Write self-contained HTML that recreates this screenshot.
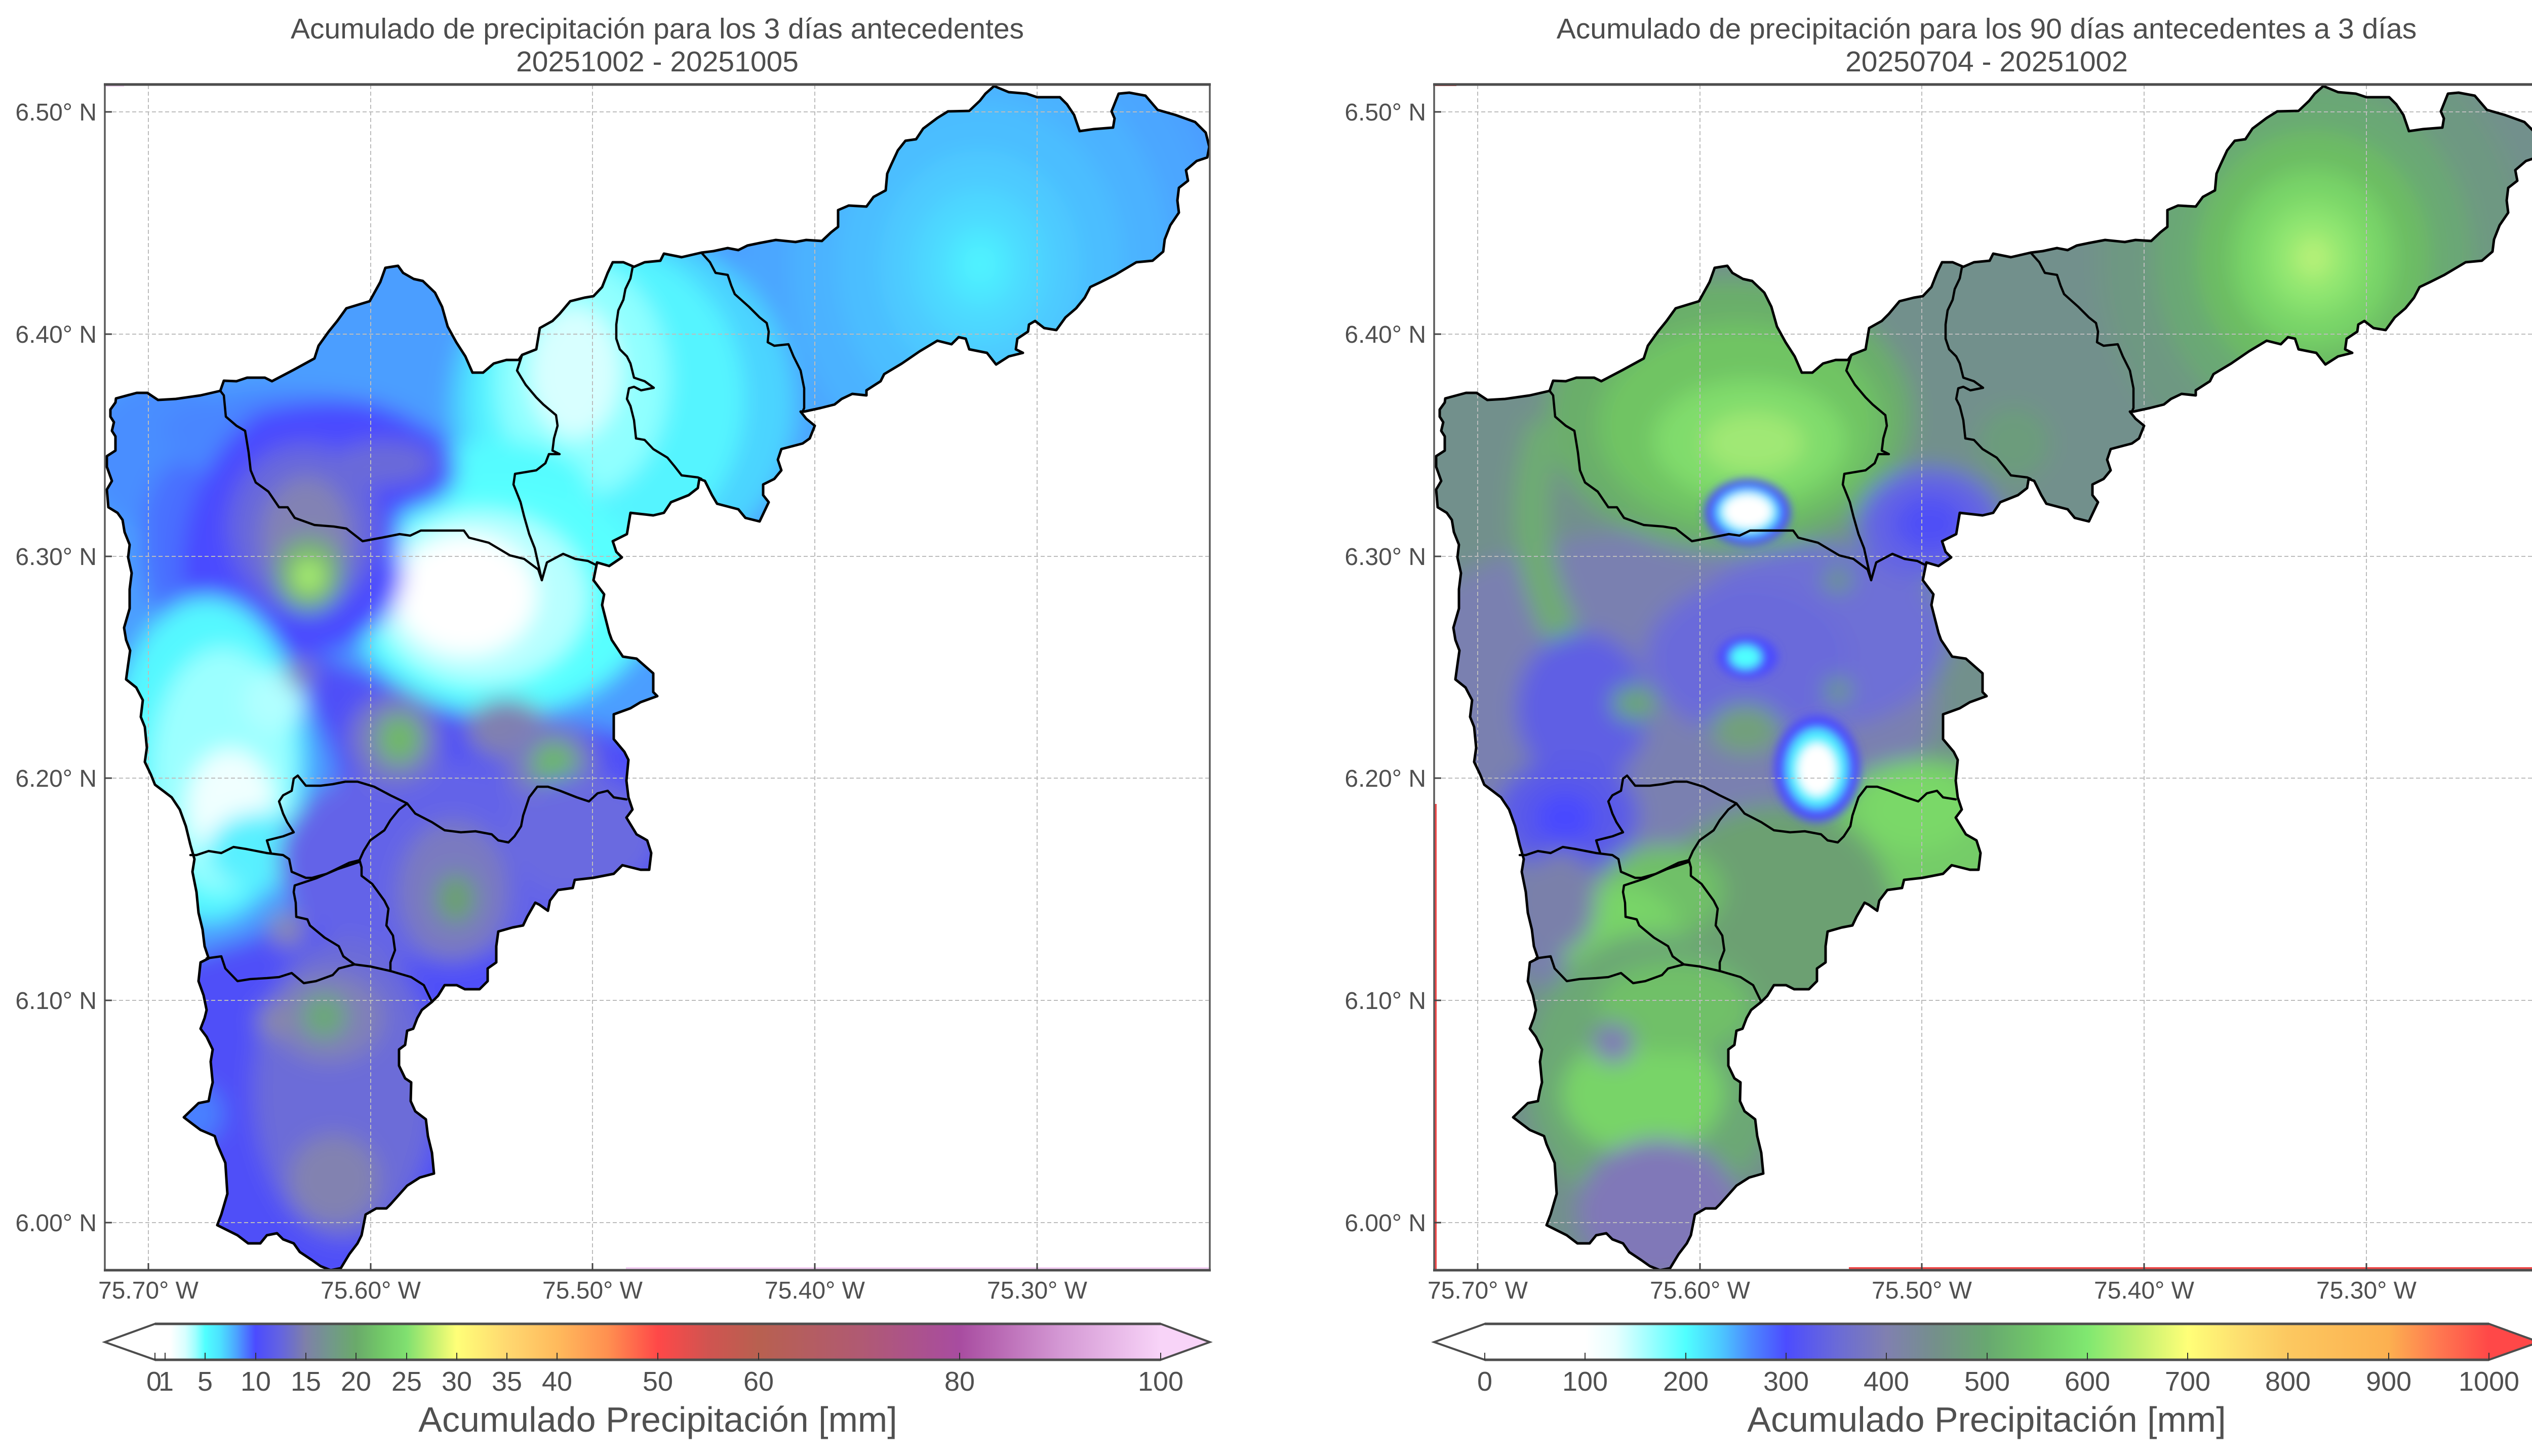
<!DOCTYPE html>
<html><head><meta charset="utf-8"><style>
html,body{margin:0;padding:0;background:#fff;}
body{width:5044px;height:2876px;overflow:hidden;}
svg{display:block;font-family:"Liberation Sans",sans-serif;}
</style></head><body>
<svg width="5044" height="2876" viewBox="0 0 5044 2876" xmlns="http://www.w3.org/2000/svg">
<defs>
<clipPath id="cp"><polygon points="229,787 270,776 291,776 312,790 347,788 396,781 435,772 442,752 467,753 488,746 523,746 537,753 579,731 621,708 629,683 649,655 666,634 684,609 730,595 751,557 761,529 786,525 796,539 817,551 835,555 859,578 873,606 884,645 901,676 919,704 933,736 954,736 975,718 1000,711 1024,711 1031,701 1059,690 1066,648 1091,634 1105,620 1126,595 1154,588 1172,585 1189,567 1200,539 1210,518 1231,518 1252,527 1273,518 1304,515 1311,501 1346,508 1385,499 1409,496 1437,490 1458,494 1476,485 1500,480 1532,474 1571,478 1592,474 1623,476 1641,459 1655,448 1655,415 1676,406 1711,408 1725,389 1749,376 1752,343 1760,325 1773,297 1788,278 1809,275 1823,254 1851,233 1872,220 1914,219 1935,199 1946,185 1963,170 1992,182 2027,185 2048,192 2093,192 2107,206 2121,227 2132,259 2160,255 2198,252 2201,234 2195,220 2209,185 2230,183 2262,189 2286,217 2321,227 2360,241 2381,262 2388,290 2384,311 2363,318 2342,336 2346,357 2328,371 2325,396 2328,420 2311,445 2300,473 2297,497 2276,515 2244,518 2202,543 2174,557 2153,567 2142,588 2125,609 2104,627 2086,652 2062,648 2044,634 2032,641 2030,655 2009,669 2006,690 2020,697 1992,704 1967,720 1949,697 1914,690 1907,669 1893,666 1879,680 1851,673 1816,694 1781,718 1746,739 1739,753 1711,771 1711,781 1683,778 1662,788 1648,799 1620,806 1588,813 1581,813 1592,827 1609,841 1599,866 1585,876 1543,887 1536,908 1543,929 1529,946 1507,957 1507,978 1518,992 1500,1030 1472,1023 1458,1006 1416,995 1406,978 1392,950 1381,946 1378,964 1360,978 1325,992 1311,1013 1290,1018 1245,1013 1238,1055 1210,1069 1217,1090 1228,1101 1203,1118 1179,1111 1172,1146 1193,1174 1189,1195 1203,1250 1208,1264 1230,1297 1257,1301 1290,1330 1290,1367 1298,1375 1265,1387 1245,1399 1212,1411 1212,1460 1233,1485 1241,1501 1237,1542 1241,1575 1249,1599 1237,1615 1257,1648 1278,1660 1286,1685 1282,1718 1265,1718 1229,1709 1212,1726 1171,1734 1135,1738 1131,1754 1102,1758 1086,1779 1082,1799 1065,1787 1057,1783 1041,1811 1033,1828 1012,1832 984,1840 980,1869 980,1901 963,1913 963,1938 947,1954 918,1954 902,1946 878,1946 865,1967 853,1979 833,1995 824,2011 816,2032 804,2036 800,2064 788,2073 788,2105 800,2130 812,2138 811,2175 820,2195 841,2211 845,2244 853,2277 857,2318 829,2326 804,2342 771,2379 763,2387 743,2387 722,2399 714,2440 706,2456 690,2477 673,2505 653,2509 633,2501 616,2489 592,2473 580,2456 559,2448 547,2436 527,2440 514,2456 490,2456 469,2440 453,2432 429,2420 437,2399 449,2358 445,2297 429,2260 424,2244 396,2232 380,2220 363,2207 392,2179 412,2175 416,2154 420,2138 416,2097 420,2073 408,2048 396,2032 404,2011 408,1995 402,1966 392,1938 396,1901 412,1893 404,1869 400,1836 392,1803 388,1762 380,1722 384,1697 376,1669 367,1632 355,1599 339,1575 322,1562 306,1550 298,1530 286,1505 290,1477 286,1436 278,1416 282,1383 269,1358 249,1342 253,1313 257,1285 249,1264 245,1240 256,1202 256,1164 260,1132 253,1101 256,1076 246,1051 242,1027 232,1013 214,1002 211,967 221,950 211,922 211,901 228,890 228,862 221,851 225,834 218,823 218,809 228,795"/></clipPath>
<g id="outline"><polygon fill="none" stroke="#000" stroke-width="5" stroke-linejoin="round" points="229,787 270,776 291,776 312,790 347,788 396,781 435,772 442,752 467,753 488,746 523,746 537,753 579,731 621,708 629,683 649,655 666,634 684,609 730,595 751,557 761,529 786,525 796,539 817,551 835,555 859,578 873,606 884,645 901,676 919,704 933,736 954,736 975,718 1000,711 1024,711 1031,701 1059,690 1066,648 1091,634 1105,620 1126,595 1154,588 1172,585 1189,567 1200,539 1210,518 1231,518 1252,527 1273,518 1304,515 1311,501 1346,508 1385,499 1409,496 1437,490 1458,494 1476,485 1500,480 1532,474 1571,478 1592,474 1623,476 1641,459 1655,448 1655,415 1676,406 1711,408 1725,389 1749,376 1752,343 1760,325 1773,297 1788,278 1809,275 1823,254 1851,233 1872,220 1914,219 1935,199 1946,185 1963,170 1992,182 2027,185 2048,192 2093,192 2107,206 2121,227 2132,259 2160,255 2198,252 2201,234 2195,220 2209,185 2230,183 2262,189 2286,217 2321,227 2360,241 2381,262 2388,290 2384,311 2363,318 2342,336 2346,357 2328,371 2325,396 2328,420 2311,445 2300,473 2297,497 2276,515 2244,518 2202,543 2174,557 2153,567 2142,588 2125,609 2104,627 2086,652 2062,648 2044,634 2032,641 2030,655 2009,669 2006,690 2020,697 1992,704 1967,720 1949,697 1914,690 1907,669 1893,666 1879,680 1851,673 1816,694 1781,718 1746,739 1739,753 1711,771 1711,781 1683,778 1662,788 1648,799 1620,806 1588,813 1581,813 1592,827 1609,841 1599,866 1585,876 1543,887 1536,908 1543,929 1529,946 1507,957 1507,978 1518,992 1500,1030 1472,1023 1458,1006 1416,995 1406,978 1392,950 1381,946 1378,964 1360,978 1325,992 1311,1013 1290,1018 1245,1013 1238,1055 1210,1069 1217,1090 1228,1101 1203,1118 1179,1111 1172,1146 1193,1174 1189,1195 1203,1250 1208,1264 1230,1297 1257,1301 1290,1330 1290,1367 1298,1375 1265,1387 1245,1399 1212,1411 1212,1460 1233,1485 1241,1501 1237,1542 1241,1575 1249,1599 1237,1615 1257,1648 1278,1660 1286,1685 1282,1718 1265,1718 1229,1709 1212,1726 1171,1734 1135,1738 1131,1754 1102,1758 1086,1779 1082,1799 1065,1787 1057,1783 1041,1811 1033,1828 1012,1832 984,1840 980,1869 980,1901 963,1913 963,1938 947,1954 918,1954 902,1946 878,1946 865,1967 853,1979 833,1995 824,2011 816,2032 804,2036 800,2064 788,2073 788,2105 800,2130 812,2138 811,2175 820,2195 841,2211 845,2244 853,2277 857,2318 829,2326 804,2342 771,2379 763,2387 743,2387 722,2399 714,2440 706,2456 690,2477 673,2505 653,2509 633,2501 616,2489 592,2473 580,2456 559,2448 547,2436 527,2440 514,2456 490,2456 469,2440 453,2432 429,2420 437,2399 449,2358 445,2297 429,2260 424,2244 396,2232 380,2220 363,2207 392,2179 412,2175 416,2154 420,2138 416,2097 420,2073 408,2048 396,2032 404,2011 408,1995 402,1966 392,1938 396,1901 412,1893 404,1869 400,1836 392,1803 388,1762 380,1722 384,1697 376,1669 367,1632 355,1599 339,1575 322,1562 306,1550 298,1530 286,1505 290,1477 286,1436 278,1416 282,1383 269,1358 249,1342 253,1313 257,1285 249,1264 245,1240 256,1202 256,1164 260,1132 253,1101 256,1076 246,1051 242,1027 232,1013 214,1002 211,967 221,950 211,922 211,901 228,890 228,862 221,851 225,834 218,823 218,809 228,795"/>
<g fill="none" stroke="#000" stroke-width="4.5" stroke-linejoin="round" stroke-linecap="round">
<polyline points="435,772 442,781 446,823 467,841 484,851 491,894 495,929 505,953 530,971 551,1002 568,1002 582,1023 621,1037 659,1040 684,1044 716,1069 754,1062 789,1055 810,1058 831,1048 866,1048 916,1048 926,1062 965,1072 1007,1097 1035,1104 1063,1125 1070,1146"/>
<polyline points="1070,1146 1056,1083 1045,1055 1035,1020 1028,992 1014,957 1017,936 1059,929 1077,915 1084,897 1105,897 1091,890 1094,866 1101,841 1098,820 1073,799 1059,785 1038,760 1021,732 1031,701"/>
<polyline points="1070,1146 1080,1111 1112,1094 1136,1104 1161,1108 1175,1115"/>
<polyline points="1249,529 1245,550 1235,571 1231,592 1221,613 1217,641 1217,669 1224,690 1238,704 1245,718 1252,746 1273,753 1291,766 1266,771 1252,764 1242,767 1238,788 1245,802 1252,830 1256,866 1273,869 1290,887 1318,904 1332,921 1346,939 1378,943 1385,946"/>
<polyline points="1385,499 1402,518 1413,539 1437,543 1444,564 1451,581 1479,606 1500,627 1514,638 1518,655 1516,676 1529,683 1557,680 1567,704 1581,732 1588,767 1588,806 1585,813"/>
<polyline points="376,1689 388,1689 412,1681 437,1685 461,1673 486,1677 527,1685 559,1689 571,1697 576,1722 604,1734 616,1734 645,1726 690,1704 710,1699 718,1681 731,1660 759,1640 771,1620 788,1599 804,1587 820,1607 853,1624 878,1640 910,1644 939,1642 971,1648 984,1660 1004,1664 1016,1652 1029,1632 1033,1611 1045,1575 1061,1554 1082,1554 1106,1562 1139,1575 1163,1583 1180,1567 1200,1562 1212,1575 1237,1579"/>
<polyline points="804,1587 771,1571 739,1554 706,1544 682,1544 657,1549 633,1552 604,1552 596,1542 588,1532 580,1538 576,1562 559,1571 551,1583 559,1607 567,1624 580,1644 559,1652 527,1660 531,1673 535,1685"/>
<polyline points="710,1699 714,1713 714,1730 735,1746 759,1779 767,1795 763,1828 776,1848 780,1877 771,1901 771,1918"/>
<polyline points="708,1703 666,1717 624,1735 582,1749 580,1762 584,1783 585,1811 607,1816 612,1828 641,1852 669,1869 678,1889 700,1905"/>
<polyline points="408,1893 437,1889 445,1913 469,1938 494,1934 527,1932 551,1930 576,1922 600,1942 624,1938 657,1926 669,1913 700,1905 731,1909 771,1918 812,1930 837,1946 853,1979"/>
</g>
</g>
<filter id="bl" x="-10%" y="-10%" width="120%" height="120%"><feGaussianBlur stdDeviation="22"/></filter>
<filter id="bs" x="-50%" y="-50%" width="200%" height="200%"><feGaussianBlur stdDeviation="9"/></filter>
<g id="grid" stroke="#bcbcbc" stroke-width="2" stroke-dasharray="8,5" fill="none">
<line x1="293" y1="168" x2="293" y2="2507"/><line x1="732" y1="168" x2="732" y2="2507"/><line x1="1170" y1="168" x2="1170" y2="2507"/><line x1="1609" y1="168" x2="1609" y2="2507"/><line x1="2048" y1="168" x2="2048" y2="2507"/>
<line x1="209" y1="221" x2="2387" y2="221"/><line x1="209" y1="660" x2="2387" y2="660"/><line x1="209" y1="1099" x2="2387" y2="1099"/><line x1="209" y1="1537" x2="2387" y2="1537"/><line x1="209" y1="1976" x2="2387" y2="1976"/><line x1="209" y1="2415" x2="2387" y2="2415"/>
</g>
<g id="axes">
<rect x="207" y="166" width="2182" height="2343" fill="none" stroke="#5a5a5a" stroke-width="3.5"/>
<line x1="205" y1="167" x2="2391" y2="167" stroke="#4d4d4d" stroke-width="5"/>
<line x1="205" y1="2509" x2="2391" y2="2509" stroke="#4d4d4d" stroke-width="5"/>
<g stroke="#444" stroke-width="3">
<line x1="293" y1="2495" x2="293" y2="2509"/><line x1="732" y1="2495" x2="732" y2="2509"/><line x1="1170" y1="2495" x2="1170" y2="2509"/><line x1="1609" y1="2495" x2="1609" y2="2509"/><line x1="2048" y1="2495" x2="2048" y2="2509"/>
<line x1="207" y1="221" x2="221" y2="221"/><line x1="207" y1="660" x2="221" y2="660"/><line x1="207" y1="1099" x2="221" y2="1099"/><line x1="207" y1="1537" x2="221" y2="1537"/><line x1="207" y1="1976" x2="221" y2="1976"/><line x1="207" y1="2415" x2="221" y2="2415"/>
</g>
<g fill="#505050" font-size="48" text-anchor="middle">
<text x="293" y="2565">75.70° W</text><text x="732" y="2565">75.60° W</text><text x="1170" y="2565">75.50° W</text><text x="1609" y="2565">75.40° W</text><text x="2048" y="2565">75.30° W</text>
</g>
<g fill="#505050" font-size="48" text-anchor="end">
<text x="191" y="238">6.50° N</text><text x="191" y="677">6.40° N</text><text x="191" y="1116">6.30° N</text><text x="191" y="1554">6.20° N</text><text x="191" y="1993">6.10° N</text><text x="191" y="2432">6.00° N</text>
</g>
</g>
<linearGradient id="cbL" gradientUnits="userSpaceOnUse" x1="306" y1="0" x2="2292" y2="0">
<stop offset="0" stop-color="#ffffff"/><stop offset="0.015" stop-color="#ffffff"/><stop offset="0.03" stop-color="#d8ffff"/><stop offset="0.04" stop-color="#a0ffff"/><stop offset="0.05" stop-color="#50ffff"/><stop offset="0.065" stop-color="#4ce0ff"/><stop offset="0.08" stop-color="#4ca8ff"/><stop offset="0.1" stop-color="#4b4bff"/><stop offset="0.125" stop-color="#6464e0"/><stop offset="0.15" stop-color="#7e80a8"/><stop offset="0.175" stop-color="#72988a"/><stop offset="0.2" stop-color="#6aaa6a"/><stop offset="0.225" stop-color="#72c868"/><stop offset="0.25" stop-color="#80e070"/><stop offset="0.275" stop-color="#c0f070"/><stop offset="0.3" stop-color="#ffff78"/><stop offset="0.35" stop-color="#ffd870"/><stop offset="0.4" stop-color="#ffba5c"/><stop offset="0.45" stop-color="#ff9050"/><stop offset="0.5" stop-color="#ff4848"/><stop offset="0.55" stop-color="#d05450"/><stop offset="0.6" stop-color="#b86050"/><stop offset="0.7" stop-color="#b05a72"/><stop offset="0.8" stop-color="#a84ca0"/><stop offset="0.9" stop-color="#d498d4"/><stop offset="1" stop-color="#f8d4f8"/>
</linearGradient>
<linearGradient id="cbR" gradientUnits="userSpaceOnUse" x1="2932" y1="0" x2="4915" y2="0">
<stop offset="0" stop-color="#ffffff"/><stop offset="0.1" stop-color="#ffffff"/><stop offset="0.13" stop-color="#e8ffff"/><stop offset="0.17" stop-color="#90ffff"/><stop offset="0.2" stop-color="#50ffff"/><stop offset="0.235" stop-color="#4cc8ff"/><stop offset="0.265" stop-color="#4c88ff"/><stop offset="0.3" stop-color="#4c4cff"/><stop offset="0.35" stop-color="#6a6ad8"/><stop offset="0.4" stop-color="#8080b0"/><stop offset="0.45" stop-color="#74908a"/><stop offset="0.5" stop-color="#68a870"/><stop offset="0.55" stop-color="#70c868"/><stop offset="0.6" stop-color="#80e870"/><stop offset="0.65" stop-color="#c0f070"/><stop offset="0.7" stop-color="#ffff78"/><stop offset="0.75" stop-color="#fde070"/><stop offset="0.8" stop-color="#fcc860"/><stop offset="0.9" stop-color="#fcb050"/><stop offset="0.95" stop-color="#ff7850"/><stop offset="1" stop-color="#ff4848"/>
</linearGradient>
</defs>
<rect width="5044" height="2876" fill="#fff"/>

<!-- ============ LEFT PANEL ============ -->
<g fill="#4d4d4d" text-anchor="middle" font-size="57">
<text x="1298" y="76">Acumulado de precipitación para los 3 días antecedentes</text>
<text x="1298" y="141">20251002 - 20251005</text>
</g>
<g clip-path="url(#cp)">
<g filter="url(#bl)">
<rect x="150" y="120" width="2300" height="2450" fill="#4b9eff"/>
<ellipse cx="1935" cy="525" rx="470" ry="540" fill="#4ba6ff"/>
<ellipse cx="1935" cy="525" rx="376" ry="432" fill="#4cb2ff"/>
<ellipse cx="1935" cy="525" rx="282" ry="324" fill="#4cbeff"/>
<ellipse cx="1935" cy="525" rx="197" ry="227" fill="#4dcaff"/>
<ellipse cx="1935" cy="525" rx="132" ry="151" fill="#4dd8ff"/>
<ellipse cx="1935" cy="525" rx="75" ry="86" fill="#4ee6ff"/>
<ellipse cx="1935" cy="522" rx="33" ry="38" fill="#50f4ff"/>
<ellipse cx="320" cy="900" rx="150" ry="150" fill="#4a8eff"/>
<ellipse cx="1230" cy="800" rx="340" ry="340" fill="#4cd4ff"/>
<ellipse cx="1200" cy="790" rx="270" ry="300" fill="#55f4ff"/>
<ellipse cx="1150" cy="750" rx="170" ry="230" fill="#90ffff"/>
<ellipse cx="1135" cy="735" rx="90" ry="130" fill="#d8ffff"/>
<ellipse cx="990" cy="980" rx="180" ry="110" fill="#55fcff"/>
<polygon fill="#5050f8" points="560,1290 650,1300 780,1350 900,1400 1050,1410 1200,1440 1320,1470 1330,1800 1100,1950 900,2150 900,2550 350,2550 340,1900 500,1850 620,1760 690,1640 650,1480 590,1350"/>
<ellipse cx="990" cy="1180" rx="300" ry="230" fill="#58ffff"/>
<ellipse cx="950" cy="1180" rx="210" ry="170" fill="#b8ffff"/>
<ellipse cx="920" cy="1175" rx="140" ry="120" fill="#ffffff"/>
<ellipse cx="560" cy="850" rx="240" ry="80" fill="#4a86ff"/>
<ellipse cx="360" cy="1080" rx="80" ry="170" fill="#4a70ff"/>
<ellipse cx="585" cy="1050" rx="205" ry="230" fill="#4c4cff"/>
<ellipse cx="745" cy="905" rx="150" ry="80" fill="#4c4cff"/>
<path d="M389,1150 L389,1077 Q410,930 520,840 Q620,815 726,823 Q831,850 873,921 Q880,960 817,978 Q750,1000 712,1062 Q740,1100 768,1132 Q760,1200 691,1244 Q620,1280 560,1260" fill="none" stroke="#4a4aff" stroke-width="55" stroke-linecap="round"/>
<ellipse cx="600" cy="1040" rx="150" ry="165" fill="#6868dc"/>
<ellipse cx="760" cy="915" rx="100" ry="45" fill="#6a6ad8"/>
<ellipse cx="605" cy="1060" rx="90" ry="120" fill="#8282b4"/>
<ellipse cx="610" cy="1135" rx="65" ry="75" fill="#74b070"/>
<ellipse cx="610" cy="1138" rx="30" ry="35" fill="#a8f070"/>
<ellipse cx="410" cy="1500" rx="190" ry="320" fill="#55f8ff"/>
<ellipse cx="440" cy="1520" rx="140" ry="240" fill="#9cffff"/>
<ellipse cx="455" cy="1590" rx="85" ry="110" fill="#f0ffff"/>
<ellipse cx="540" cy="1385" rx="60" ry="60" fill="#b0ffff"/>
<ellipse cx="520" cy="1680" rx="110" ry="75" fill="#58f0ff"/>
<ellipse cx="850" cy="1700" rx="300" ry="200" fill="#6464e8"/>
<ellipse cx="895" cy="1760" rx="110" ry="140" fill="#7a7ac0"/>
<ellipse cx="900" cy="1775" rx="40" ry="50" fill="#6aa070"/>
<ellipse cx="680" cy="2150" rx="180" ry="300" fill="#6c6cd8"/>
<ellipse cx="650" cy="2010" rx="110" ry="90" fill="#8080b8"/>
<ellipse cx="640" cy="2008" rx="45" ry="45" fill="#6aa878"/>
<ellipse cx="660" cy="2330" rx="90" ry="90" fill="#8282b0"/>
<ellipse cx="543" cy="2015" rx="35" ry="35" fill="#8888a8"/>
<ellipse cx="567" cy="1836" rx="35" ry="35" fill="#8888b0"/>
<ellipse cx="780" cy="1460" rx="90" ry="90" fill="#7a7ac0"/>
<ellipse cx="788" cy="1460" rx="45" ry="50" fill="#70b868"/>
<ellipse cx="1000" cy="1440" rx="80" ry="60" fill="#8080b0"/>
<ellipse cx="1090" cy="1510" rx="90" ry="80" fill="#7a7ac0"/>
<ellipse cx="1094" cy="1510" rx="45" ry="45" fill="#6cb868"/>
<ellipse cx="1150" cy="1650" rx="150" ry="120" fill="#6a6ae0"/>
<ellipse cx="380" cy="2200" rx="60" ry="60" fill="#4a80ff"/>
<ellipse cx="592" cy="1330" rx="30" ry="30" fill="#8080c0"/>
</g>
</g>
<use href="#grid"/>
<rect x="1236" y="2503" width="1152" height="4" fill="#f4d0f4"/>
<rect x="209" y="168" width="36" height="3" fill="#f4d0f4"/>
<use href="#outline"/>
<use href="#axes"/>
<!-- left colorbar -->
<rect x="306" y="2615" width="1986" height="71" fill="url(#cbL)"/>
<polygon points="207,2651 306,2615 306,2686" fill="#ffffff"/>
<polygon points="2389,2651 2292,2615 2292,2686" fill="#f8d4f8"/>
<polygon points="207,2651 306,2615 2292,2615 2389,2651 2292,2686 306,2686" fill="none" stroke="#4d4d4d" stroke-width="4" stroke-linejoin="miter"/>
<line x1="306" y1="2615" x2="2292" y2="2615" stroke="#4d4d4d" stroke-width="5"/>
<line x1="306" y1="2686" x2="2292" y2="2686" stroke="#4d4d4d" stroke-width="5"/>
<g stroke="#333" stroke-width="2">
<line x1="306" y1="2672" x2="306" y2="2686"/><line x1="326" y1="2672" x2="326" y2="2686"/><line x1="405" y1="2672" x2="405" y2="2686"/><line x1="505" y1="2672" x2="505" y2="2686"/><line x1="604" y1="2672" x2="604" y2="2686"/><line x1="703" y1="2672" x2="703" y2="2686"/><line x1="803" y1="2672" x2="803" y2="2686"/><line x1="902" y1="2672" x2="902" y2="2686"/><line x1="1001" y1="2672" x2="1001" y2="2686"/><line x1="1100" y1="2672" x2="1100" y2="2686"/><line x1="1299" y1="2672" x2="1299" y2="2686"/><line x1="1498" y1="2672" x2="1498" y2="2686"/><line x1="1895" y1="2672" x2="1895" y2="2686"/><line x1="2292" y1="2672" x2="2292" y2="2686"/>
</g>
<g fill="#505050" font-size="54" text-anchor="middle">
<text x="304" y="2747">0</text><text x="328" y="2747">1</text><text x="405" y="2747">5</text><text x="505" y="2747">10</text><text x="604" y="2747">15</text><text x="703" y="2747">20</text><text x="803" y="2747">25</text><text x="902" y="2747">30</text><text x="1001" y="2747">35</text><text x="1100" y="2747">40</text><text x="1299" y="2747">50</text><text x="1498" y="2747">60</text><text x="1895" y="2747">80</text><text x="2292" y="2747">100</text>
</g>
<text x="1299" y="2828" fill="#505050" font-size="70" text-anchor="middle">Acumulado Precipitación [mm]</text>

<!-- ============ RIGHT PANEL ============ -->
<g fill="#4d4d4d" text-anchor="middle" font-size="57">
<text x="3923" y="76">Acumulado de precipitación para los 90 días antecedentes a 3 días</text>
<text x="3923" y="141">20250704 - 20251002</text>
</g>
<g transform="translate(2625,0)">
<g clip-path="url(#cp)">
<g filter="url(#bl)">
<rect x="150" y="120" width="2300" height="2450" fill="#72908c"/>
<ellipse cx="1943" cy="510" rx="420" ry="460" fill="#6e9882"/>
<ellipse cx="1943" cy="510" rx="315" ry="345" fill="#6aa874"/>
<ellipse cx="1943" cy="510" rx="231" ry="253" fill="#6cbc64"/>
<ellipse cx="1943" cy="510" rx="160" ry="175" fill="#78d468"/>
<ellipse cx="1943" cy="510" rx="101" ry="110" fill="#8ce470"/>
<ellipse cx="1943" cy="510" rx="50" ry="55" fill="#a6ee74"/>
<ellipse cx="1943" cy="508" rx="22" ry="24" fill="#c0f27a"/>
<ellipse cx="1352" cy="875" rx="70" ry="70" fill="#6c9c7c"/>
<ellipse cx="640" cy="1380" rx="560" ry="330" fill="#7a80b0"/>
<ellipse cx="450" cy="1700" rx="150" ry="250" fill="#7880ac"/>
<ellipse cx="790" cy="820" rx="360" ry="270" fill="#6aae6a"/>
<ellipse cx="810" cy="840" rx="280" ry="200" fill="#70c464"/>
<ellipse cx="830" cy="870" rx="190" ry="120" fill="#80dc6c"/>
<ellipse cx="838" cy="875" rx="100" ry="60" fill="#a0e874"/>
<path d="M430,840 Q350,1060 480,1290" fill="none" stroke="#6eac72" stroke-width="70"/>
<ellipse cx="960" cy="1260" rx="260" ry="180" fill="#6e70d6"/>
<ellipse cx="1185" cy="1035" rx="140" ry="110" fill="#6464e4"/>
<ellipse cx="1185" cy="1035" rx="70" ry="55" fill="#5050f6"/>
<ellipse cx="826" cy="1300" rx="200" ry="150" fill="#6a6ada"/>
<ellipse cx="500" cy="1400" rx="130" ry="150" fill="#5e5ee4"/>
<ellipse cx="470" cy="1610" rx="140" ry="110" fill="#5a5ae8"/>
<ellipse cx="465" cy="1615" rx="60" ry="50" fill="#4848ff"/>
<ellipse cx="602" cy="1389" rx="45" ry="35" fill="#6aa870"/>
<ellipse cx="822" cy="1440" rx="70" ry="50" fill="#72a07a"/>
<ellipse cx="1004" cy="1364" rx="25" ry="25" fill="#6aa070"/>
<ellipse cx="1004" cy="1145" rx="30" ry="25" fill="#6a9a7a"/>
<ellipse cx="1170" cy="1640" rx="190" ry="140" fill="#74cc68"/>
<ellipse cx="1160" cy="1600" rx="110" ry="80" fill="#7ad868"/>
<ellipse cx="880" cy="1790" rx="230" ry="200" fill="#6ca072"/>
<ellipse cx="660" cy="1760" rx="120" ry="90" fill="#70c068"/>
<ellipse cx="570" cy="1845" rx="120" ry="100" fill="#78d468"/>
<ellipse cx="640" cy="2120" rx="250" ry="280" fill="#6ca874"/>
<ellipse cx="620" cy="2160" rx="160" ry="120" fill="#78d468"/>
<ellipse cx="680" cy="1990" rx="150" ry="90" fill="#70c068"/>
<ellipse cx="561" cy="2061" rx="40" ry="40" fill="#8078b8"/>
<ellipse cx="650" cy="2390" rx="160" ry="140" fill="#8078b8"/>
<ellipse cx="456" cy="1780" rx="70" ry="100" fill="#7a80aa"/>
</g>
<g filter="url(#bs)">
<ellipse cx="826" cy="1012" rx="85" ry="65" fill="#4c4cff"/>
<ellipse cx="826" cy="1012" rx="62" ry="46" fill="#50e8ff"/>
<ellipse cx="826" cy="1010" rx="48" ry="34" fill="#ffffff"/>
<ellipse cx="826" cy="1298" rx="60" ry="42" fill="#4c4cff"/>
<ellipse cx="822" cy="1298" rx="30" ry="22" fill="#50ffff"/>
<ellipse cx="963" cy="1518" rx="85" ry="105" fill="#4c4cff"/>
<ellipse cx="963" cy="1518" rx="60" ry="78" fill="#50f0ff"/>
<ellipse cx="963" cy="1520" rx="38" ry="52" fill="#ffffff"/>
</g>
</g>
<use href="#grid"/>
<use href="#outline"/>
</g>
<rect x="2833" y="1588" width="4" height="921" fill="#f04848"/>
<rect x="3651" y="2503" width="1362" height="4" fill="#f04848"/>
<rect x="2834" y="167" width="42" height="3" fill="#f04848"/>
<g transform="translate(2625,0)"><use href="#axes"/></g>
<!-- right colorbar -->
<rect x="2932" y="2615" width="1983" height="71" fill="url(#cbR)"/>
<polygon points="2832,2651 2932,2615 2932,2686" fill="#ffffff"/>
<polygon points="5014,2651 4915,2615 4915,2686" fill="#ff4848"/>
<polygon points="2832,2651 2932,2615 4915,2615 5014,2651 4915,2686 2932,2686" fill="none" stroke="#4d4d4d" stroke-width="4"/>
<line x1="2932" y1="2615" x2="4915" y2="2615" stroke="#4d4d4d" stroke-width="5"/>
<line x1="2932" y1="2686" x2="4915" y2="2686" stroke="#4d4d4d" stroke-width="5"/>
<g stroke="#333" stroke-width="2">
<line x1="2932" y1="2672" x2="2932" y2="2686"/><line x1="3130" y1="2672" x2="3130" y2="2686"/><line x1="3329" y1="2672" x2="3329" y2="2686"/><line x1="3527" y1="2672" x2="3527" y2="2686"/><line x1="3725" y1="2672" x2="3725" y2="2686"/><line x1="3924" y1="2672" x2="3924" y2="2686"/><line x1="4122" y1="2672" x2="4122" y2="2686"/><line x1="4320" y1="2672" x2="4320" y2="2686"/><line x1="4518" y1="2672" x2="4518" y2="2686"/><line x1="4717" y1="2672" x2="4717" y2="2686"/><line x1="4915" y1="2672" x2="4915" y2="2686"/>
</g>
<g fill="#505050" font-size="54" text-anchor="middle">
<text x="2932" y="2747">0</text><text x="3130" y="2747">100</text><text x="3329" y="2747">200</text><text x="3527" y="2747">300</text><text x="3725" y="2747">400</text><text x="3924" y="2747">500</text><text x="4122" y="2747">600</text><text x="4320" y="2747">700</text><text x="4518" y="2747">800</text><text x="4717" y="2747">900</text><text x="4915" y="2747">1000</text>
</g>
<text x="3923" y="2828" fill="#505050" font-size="70" text-anchor="middle">Acumulado Precipitación [mm]</text>
</svg>
</body></html>
